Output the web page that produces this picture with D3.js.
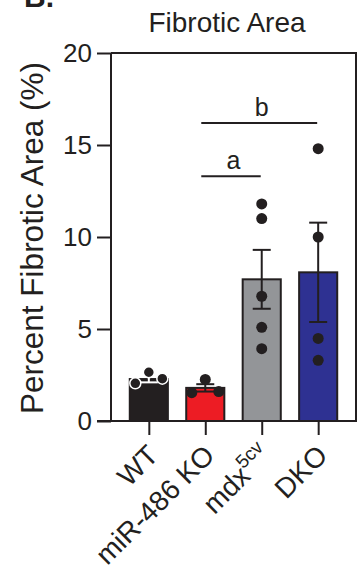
<!DOCTYPE html>
<html>
<head>
<meta charset="utf-8">
<script src="https://cdn.jsdelivr.net/npm/d3@7"></script>
<style>
body{margin:0;background:#fff;}
svg{display:block;font-family:"Liberation Sans",Arial,sans-serif;}
</style>
</head>
<body>
<svg id="chart"></svg>
<script>
///data
var groups=["WT","miR-486 KO","mdx","DKO"];
var means=[2.28,1.8,7.7,8.08];
var sems=[0.18,0.2,1.6,2.7];
var wtPoints=[2.65,2.05,2.3];
var koPoints=[2.26,1.54,1.6];
var mdxPoints=[11.8,11.0,6.78,5.09,3.93];
var dkoPoints=[14.8,10.0,4.49,3.3];
var yTicks=[0,5,10,15,20];
var sigPairs=[{from:"miR-486 KO",to:"mdx",label:"a",level:13.3},{from:"miR-486 KO",to:"DKO",label:"b",level:16.2}];

///some constance:
var ink="#231f20";
var fills=["#231f20","#ed1c24","#939598","#2e3192"];
var width=362,height=575;
var plot={left:111,right:356,top:53,bottom:421};
var r=5.5;

var svg=d3.select("#chart")
	.attr("width",width)
	.attr("height",height);

var y=d3.scaleLinear()
	.domain([0,20])
	.range([plot.bottom,plot.top]);
var x=d3.scalePoint()
	.domain(groups)
	.range([plot.left,plot.right])
	.padding(0.67);
var barW=x.step()*0.675;

//panel letter, cut off by the top edge like the source
svg.append("text")
	.attr("x",24)
	.attr("y",7)
	.style("font-size","30px")
	.style("font-weight","bold")
	.attr("fill",ink)
	.text("B.");

svg.append("text")
	.attr("x",227)
	.attr("y",32)
	.attr("text-anchor","middle")
	.style("font-size","28px")
	.attr("fill",ink)
	.text("Fibrotic Area");

//y label
svg.append("text")
	.attr("transform","translate(43,"+((plot.top+plot.bottom)/2+1)+") rotate(-90)")
	.attr("text-anchor","middle")
	.style("font-size","31.5px")
	.attr("fill",ink)
	.text("Percent Fibrotic Area (%)");

//bars
var points=[wtPoints,koPoints,mdxPoints,dkoPoints];
svg.selectAll("rect.bar")
	.data(groups)
	.enter().append("rect")
	.attr("class","bar")
	.attr("x",function(d){return x(d)-barW/2;})
	.attr("y",function(d,i){return y(means[i]);})
	.attr("width",barW)
	.attr("height",function(d,i){return y(0)-y(means[i]);})
	.attr("fill",function(d,i){return fills[i];})
	.attr("stroke",ink)
	.attr("stroke-width",2);

//error bars (white on the black bar)
var eb=svg.selectAll("g.err")
	.data(groups)
	.enter().append("g")
	.attr("class","err")
	.attr("stroke",function(d,i){return i==0?"#fff":ink;})
	.attr("stroke-width",2);
eb.append("line")
	.attr("x1",function(d){return x(d);})
	.attr("x2",function(d){return x(d);})
	.attr("y1",function(d,i){return y(means[i]-sems[i]);})
	.attr("y2",function(d,i){return y(means[i]+sems[i]);});
[-1,1].forEach(function(s){
	eb.append("line")
		.attr("x1",function(d){return x(d)-9;})
		.attr("x2",function(d){return x(d)+9;})
		.attr("y1",function(d,i){return y(means[i]+s*sems[i]);})
		.attr("y2",function(d,i){return y(means[i]+s*sems[i]);});
});

//scatter, simple swarm so close values spread sideways
var dots=[];
points.forEach(function(vals,gi){
	var placed=[];
	vals.forEach(function(v){
		var py=y(v);
		var slots=[0,-1,1,-2,2];
		for(var k=0;k<slots.length;k++){
			var hit=placed.some(function(p){return p.slot==slots[k]&&Math.abs(p.py-py)<14;});
			if(!hit){placed.push({slot:slots[k],py:py});break;}
		}
		var s=placed[placed.length-1].slot;
		dots.push({g:gi,cx:x(groups[gi])+s*13.5,cy:py});
	});
});
svg.selectAll("circle")
	.data(dots)
	.enter().append("circle")
	.attr("cx",function(d){return d.cx;})
	.attr("cy",function(d){return d.cy;})
	.attr("r",r)
	.attr("fill",ink)
	.attr("stroke",function(d){return d.g==0?"#fff":"none";})
	.attr("stroke-width",1.5);

//frame: top and right
svg.append("path")
	.attr("d","M"+plot.left+","+plot.top+"H"+plot.right+"V"+plot.bottom)
	.attr("fill","none")
	.attr("stroke",ink)
	.attr("stroke-width",2);

//axes
var yAxis=d3.axisLeft(y)
	.tickValues(yTicks)
	.tickSize(14)
	.tickPadding(5);
var gy=svg.append("g")
	.attr("transform","translate("+plot.left+",0)")
	.call(yAxis);
gy.select(".domain").remove();
gy.append("line")
	.attr("x1",0).attr("x2",0)
	.attr("y1",plot.top).attr("y2",plot.bottom)
	.attr("stroke",ink).attr("stroke-width",2);
gy.selectAll(".tick line").attr("stroke",ink).attr("stroke-width",2);
gy.selectAll(".tick text")
	.attr("fill",ink)
	.style("font-size","26px")
	.style("font-family","'Liberation Sans',Arial,sans-serif");

var xAxis=d3.axisBottom(x)
	.tickSize(14)
	.tickFormat("");
var gx=svg.append("g")
	.attr("transform","translate(0,"+plot.bottom+")")
	.call(xAxis);
gx.select(".domain").remove();
gx.append("line")
	.attr("x1",plot.left-14).attr("x2",plot.right+1)
	.attr("y1",0).attr("y2",0)
	.attr("stroke",ink).attr("stroke-width",2);
gx.selectAll(".tick line").attr("stroke",ink).attr("stroke-width",2);

//rotated group labels
var xl=svg.selectAll("text.xlab")
	.data(groups)
	.enter().append("text")
	.attr("class","xlab")
	.attr("text-anchor","end")
	.attr("fill",ink)
	.style("font-size","28px")
	.attr("transform",function(d){return "translate("+(x(d)+11)+",457) rotate(-45)";});
xl.each(function(d){
	var t=d3.select(this);
	if(d=="mdx"){
		t.append("tspan").text("mdx");
		t.append("tspan").style("font-size","19px").attr("dy",-12).text("5cv");
	}else{
		t.text(d);
	}
});

//significance bars
sigPairs.forEach(function(s){
	svg.append("line")
		.attr("x1",x(s.from)-4)
		.attr("x2",x(s.to)-1)
		.attr("y1",y(s.level))
		.attr("y2",y(s.level))
		.attr("stroke",ink)
		.attr("stroke-width",2);
	svg.append("text")
		.attr("x",(x(s.from)+x(s.to))/2)
		.attr("y",y(s.level)-7)
		.attr("text-anchor","middle")
		.attr("fill",ink)
		.style("font-size","25px")
		.text(s.label);
});
</script>
</body>
</html>
